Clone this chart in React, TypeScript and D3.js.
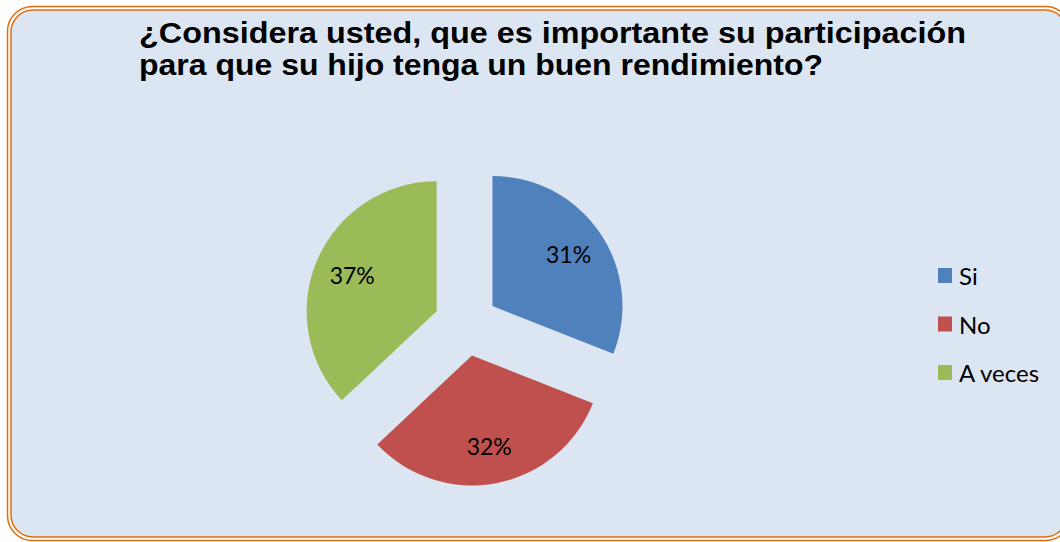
import React from "react";
import * as d3 from "d3";

const categories = ["Si", "No", "A veces"];
const values = [31, 32, 37];
const colors = ["#4F81BD", "#C0504D", "#9BBB59"];
const titleLines = [
  "¿Considera usted, que es importante su participación",
  "para que su hijo tenga un buen rendimiento?",
];

const W = 1060;
const H = 542;

const App = () => {
  const data = categories.map((c, i) => ({ label: c, value: values[i] }));

  // pie starts at 12 o'clock, keeps the data order
  const pie = d3
    .pie<{ label: string; value: number }>()
    .value((d) => d.value)
    .sort(null);

  const radius = 130;
  const explode = 32;
  const cx = 466;
  const cy = 324;

  const arc = d3
    .arc<d3.PieArcDatum<{ label: string; value: number }>>()
    .innerRadius(0)
    .outerRadius(radius);
  const labelArc = d3
    .arc<d3.PieArcDatum<{ label: string; value: number }>>()
    .innerRadius(92)
    .outerRadius(92);

  const total = d3.sum(values);
  const arcs = pie(data);

  const legendY = d3
    .scalePoint<string>()
    .domain(categories)
    .range([275.5, 372.5]);

  const titleWidths = [827, 684];

  return (
    <svg width={W} height={H} style={{ position: "absolute", left: 0, top: 0 }}>
      <rect x={0} y={0} width={W} height={H} fill="#ffffff" />
      {/* double orange frame */}
      <rect x={7.5} y={6.5} width={1063} height={534} rx={25} fill="#ffffff" stroke="#E46C0A" strokeWidth={1.5} />
      <rect x={11} y={10} width={1056} height={527} rx={22} fill="#DCE6F2" stroke="#E46C0A" strokeWidth={1.5} />

      <g fontFamily="'Liberation Sans', Arial, sans-serif" fontWeight="bold" fontSize={29} fill="#000">
        {titleLines.map((t, i) => (
          <text
            key={i}
            x={139}
            y={43 + i * 31.5}
            textLength={titleWidths[i]}
            lengthAdjust="spacingAndGlyphs"
          >
            {t}
          </text>
        ))}
      </g>

      <g transform={`translate(${cx},${cy})`}>
        {arcs.map((a, i) => {
          const mid = (a.startAngle + a.endAngle) / 2;
          const dx = Math.sin(mid) * explode;
          const dy = -Math.cos(mid) * explode;
          const [lx, ly] = labelArc.centroid(a);
          return (
            <g key={i} transform={`translate(${dx},${dy})`}>
              <path d={arc(a) || ""} fill={colors[i]} />
              <text
                x={lx}
                y={ly}
                textAnchor="middle"
                dominantBaseline="central"
                fontFamily="Lato, 'Open Sans', sans-serif"
                fontSize={23}
                fill="#000"
              >
                {Math.round((a.data.value / total) * 100)}%
              </text>
            </g>
          );
        })}
      </g>

      <g fontFamily="Lato, 'Open Sans', sans-serif" fontSize={24} fill="#000">
        {categories.map((c, i) => (
          <g key={c} transform={`translate(938,${legendY(c)})`}>
            <rect x={0} y={-7.5} width={14} height={15} fill={colors[i]} />
            <text x={21} y={0} dominantBaseline="central">
              {c}
            </text>
          </g>
        ))}
      </g>
    </svg>
  );
};

export default App;
